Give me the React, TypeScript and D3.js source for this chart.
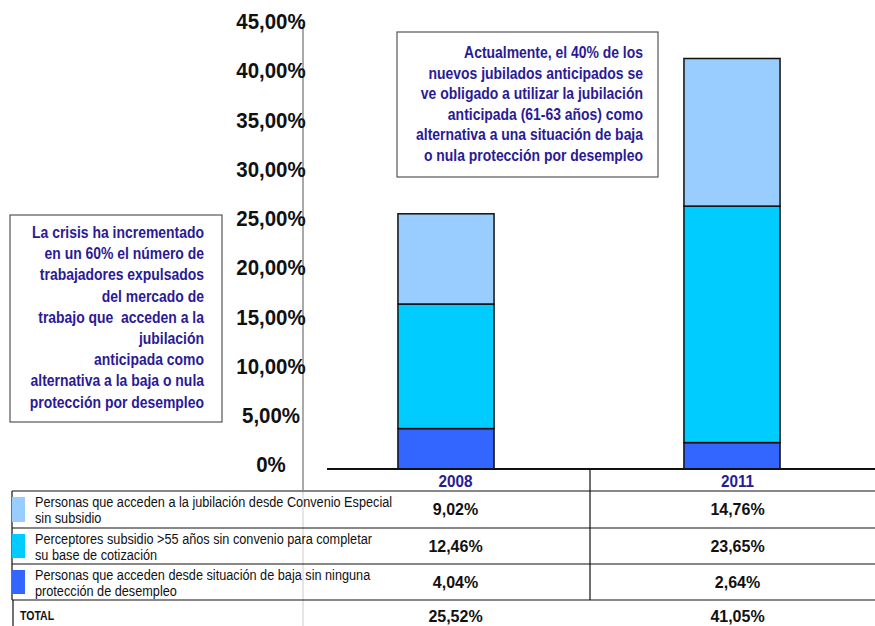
import React from "react";
import * as d3 from "d3";

const years = ["2008", "2011"];
const seriesNames = [
  ["Personas que acceden a la jubilación desde Convenio Especial", "sin subsidio"],
  ["Perceptores subsidio >55 años sin convenio para completar", "su base de cotización"],
  ["Personas que acceden desde situación de baja sin ninguna", "protección de desempleo"],
];
const sinSubsidio = [9.02, 14.76];
const perceptores = [12.46, 23.65];
const sinProteccion = [4.04, 2.64];
const totals = [25.52, 41.05];
const tickValues = [0, 5, 10, 15, 20, 25, 30, 35, 40, 45];
const tickLabels = ["0%", "5,00%", "10,00%", "15,00%", "20,00%", "25,00%", "30,00%", "35,00%", "40,00%", "45,00%"];
const leftNote = [
  "La crisis ha incrementado",
  "en un 60% el número de",
  "trabajadores expulsados",
  "del mercado de",
  "trabajo que  acceden a la",
  "jubilación",
  "anticipada como",
  "alternativa a la baja o nula",
  "protección por desempleo",
];
const rightNote = [
  "Actualmente, el 40% de los",
  "nuevos jubilados anticipados se",
  "ve obligado a utilizar la jubilación",
  "anticipada (61-63 años) como",
  "alternativa a una situación de baja",
  "o nula protección por desempleo",
];

const colors = ["#99CCFF", "#00CCFF", "#3366FF"];
const FONT = "'Liberation Sans', Arial, Helvetica, sans-serif";
const INK = "#2a1a96";

function T({ x, y, sx = 1, anchor = "start", size, weight = "normal", fill = "#111", children }: any) {
  return (
    <g transform={`translate(${x},${y}) scale(${sx},1)`}>
      <text x={0} y={0} textAnchor={anchor} dominantBaseline="central" fontSize={size}
        fontWeight={weight} fill={fill} style={{ whiteSpace: "pre" }}>{children}</text>
    </g>
  );
}

const fmt = (v: number) => v.toFixed(2).replace(".", ",") + "%";

export default function App() {
  const W = 875, H = 626;
  const y = d3.scaleLinear().domain([0, 45]).range([469, 469 - 45 * 10.0]);
  const yLab = d3.scaleLinear().domain([0, 45]).range([465, 22]);
  const x = d3.scaleBand<string>().domain(years).range([303, 875]).padding(0);
  const barW = x.bandwidth() * 0.336;

  const rows = years.map((yr, i) => ({
    year: yr,
    dark: sinProteccion[i],
    mid: perceptores[i],
    light: sinSubsidio[i],
  }));
  const stack = d3.stack<any>().keys(["dark", "mid", "light"])(rows);
  const keyColor: Record<string, string> = { dark: colors[2], mid: colors[1], light: colors[0] };

  const rowValues = [sinSubsidio, perceptores, sinProteccion];
  const rowLines = [491, 528, 564, 600];
  const colX = [327, 590, 875];
  const colCenter = [(colX[0] + colX[1]) / 2 - 3, (colX[1] + colX[2]) / 2 + 5];

  return (
    <svg width={W} height={H} style={{ position: "absolute", left: 0, top: 0, background: "#fff" }} fontFamily={FONT}>
      <rect x={0} y={0} width={W} height={H} fill="#fff" />
      {/* axis line */}
      <line x1={303} x2={303} y1={24} y2={490} stroke="#555" strokeWidth={1} />
      <line x1={303} x2={303} y1={491} y2={626} stroke="#ccc" strokeWidth={1} />
      {tickValues.map((v, i) => (
        <T key={v} x={271} y={yLab(v)} sx={0.93} anchor="middle" size={22} weight="bold">{tickLabels[i]}</T>
      ))}
      {/* bars */}
      {stack.map((s) => (
        <g key={s.key}>
          {s.map((d, i) => (
            <rect key={i} x={(x(years[i]) as number) + x.bandwidth() / 2 - barW / 2} y={y(d[1])}
              width={barW} height={y(d[0]) - y(d[1])} fill={keyColor[s.key]} stroke="#111" strokeWidth={1.5} />
          ))}
        </g>
      ))}
      {/* baseline */}
      <line x1={327} x2={875} y1={469} y2={469} stroke="#111" strokeWidth={2} />
      {/* table */}
      <line x1={590} x2={590} y1={469} y2={600} stroke="#111" strokeWidth={1.2} />
      {rowLines.map((ly) => (
        <line key={ly} x1={12} x2={875} y1={ly} y2={ly} stroke="#111" strokeWidth={1.2} />
      ))}
      <line x1={12} x2={12} y1={491} y2={600} stroke="#111" strokeWidth={1.2} />
      <line x1={13} x2={13} y1={600} y2={626} stroke="#111" strokeWidth={1.2} />
      {years.map((yr, i) => (
        <T key={yr} x={colCenter[i]} y={481} sx={0.9} anchor="middle" size={17} weight="bold" fill={INK}>{yr}</T>
      ))}
      {seriesNames.map((lines, r) => (
        <g key={r}>
          <rect x={12} y={rowLines[r] + 6} width={13} height={rowLines[r + 1] - rowLines[r] - 12} fill={colors[r]} />
          {lines.map((t, k) => (
            <T key={k} x={35} y={rowLines[r] + 11 + k * 16} sx={0.82} size={15.5}>{t}</T>
          ))}
          {years.map((yr, i) => (
            <T key={yr} x={colCenter[i]} y={(rowLines[r] + rowLines[r + 1]) / 2} anchor="middle" size={16} weight="bold">
              {fmt(rowValues[r][i])}
            </T>
          ))}
        </g>
      ))}
      <T x={20} y={616} sx={0.78} size={13.5} weight="bold">TOTAL</T>
      {years.map((yr, i) => (
        <T key={yr} x={colCenter[i]} y={616} anchor="middle" size={16} weight="bold">{fmt(totals[i])}</T>
      ))}
      {/* left note */}
      <rect x={10} y={215} width={212} height={207} fill="#fff" stroke="#555" strokeWidth={1.2} />
      {leftNote.map((t, i) => (
        <T key={i} x={204} y={232 + i * 21.2} sx={0.845} anchor="end" size={16.5} weight="bold" fill={INK}>{t}</T>
      ))}
      {/* right note */}
      <rect x={397} y={32} width={261} height={145} fill="#fff" stroke="#555" strokeWidth={1.2} />
      {rightNote.map((t, i) => (
        <T key={i} x={643} y={52 + i * 20.6} sx={0.845} anchor="end" size={16.5} weight="bold" fill={INK}>{t}</T>
      ))}
    </svg>
  );
}
